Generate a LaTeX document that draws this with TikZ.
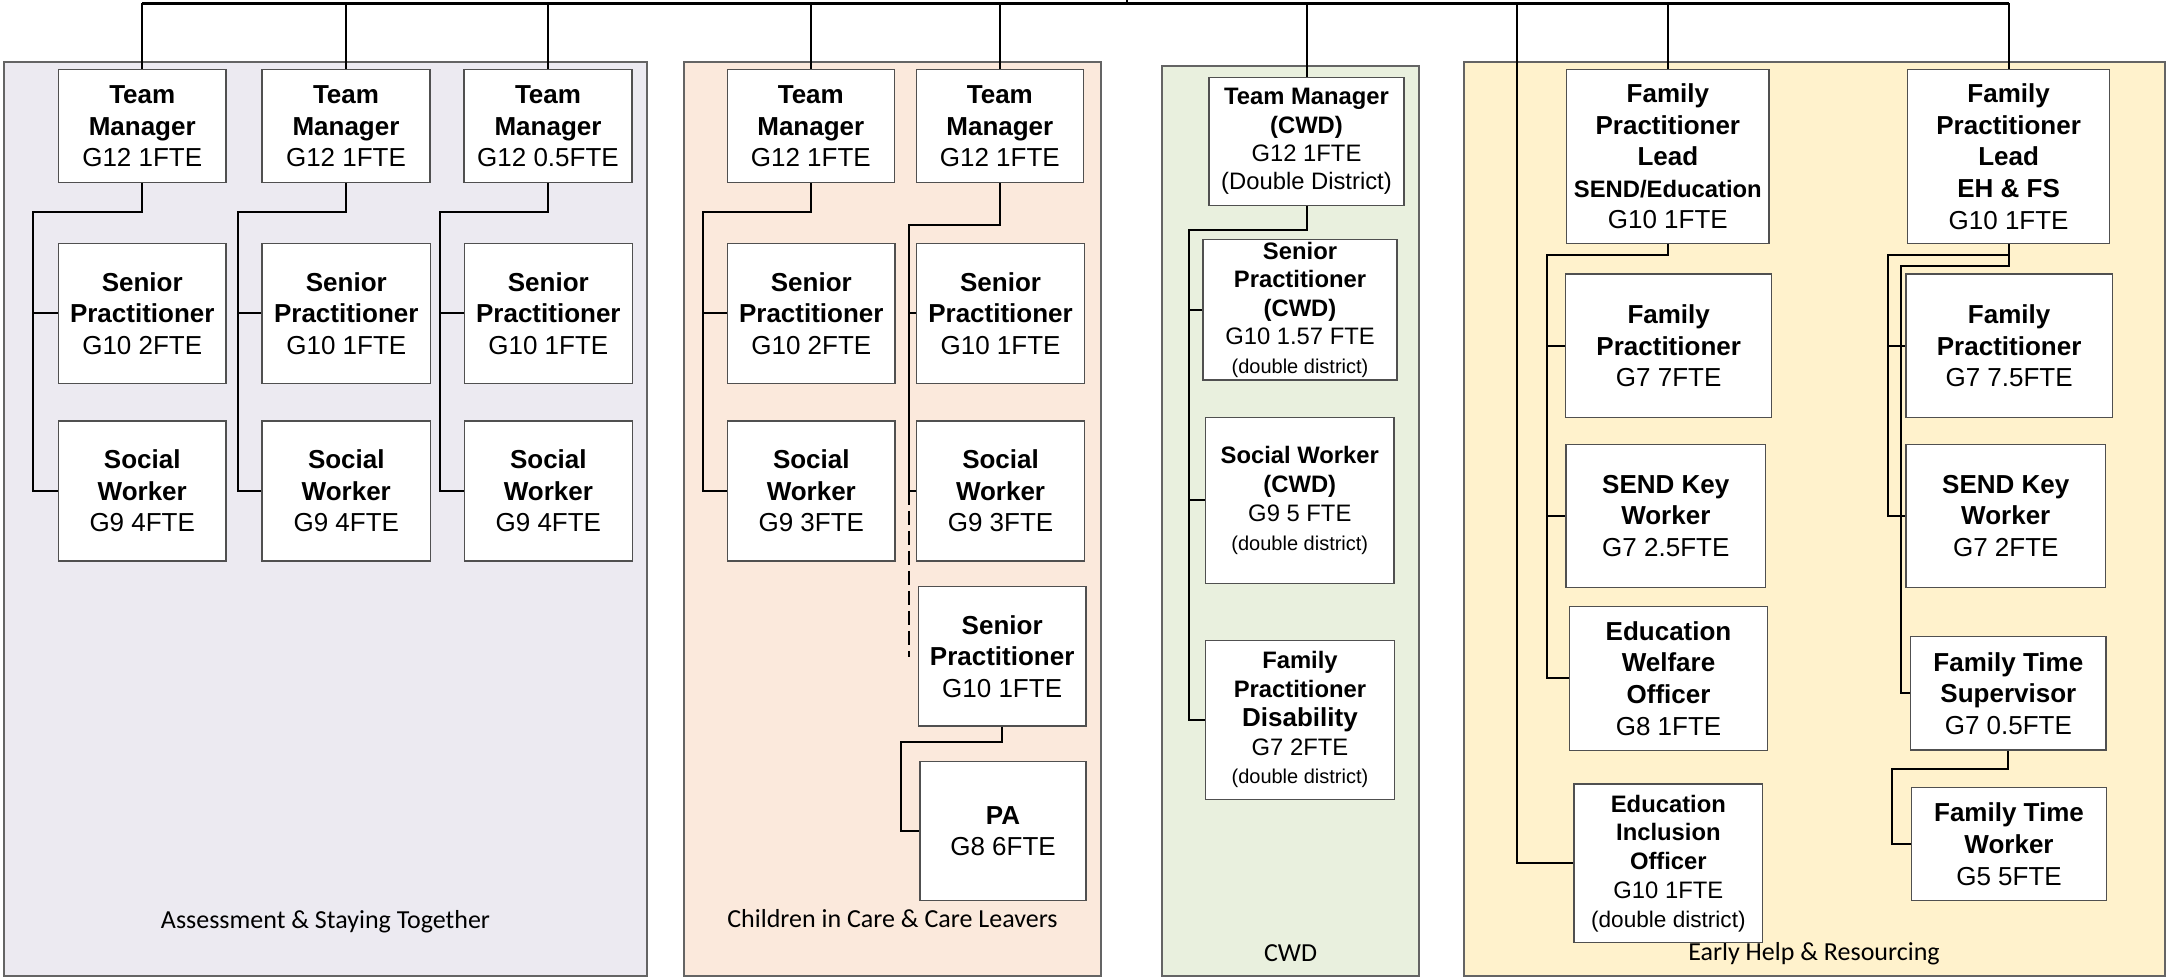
\documentclass[tikz,border=0pt]{standalone}
\usepackage{fontspec}
\setmainfont{Liberation Sans}
\newfontfamily\calfont{Carlito}
\usetikzlibrary{calc}
\definecolor{pA}{RGB}{236,234,241}
\definecolor{pB}{RGB}{251,233,220}
\definecolor{pC}{RGB}{233,240,222}
\definecolor{pD}{RGB}{255,242,204}
\definecolor{boxc}{RGB}{80,80,80}
\definecolor{panelc}{RGB}{100,100,100}
\newcommand{\dd}[1]{{\fontsize{10}{12}\selectfont #1}}
\newcommand{\obox}[7]{%
  \pgfmathsetmacro{\oboxw}{(#5-#3)*0.5}%
  \pgfmathsetmacro{\oboxh}{(#6-#4)*0.5}%
  \node[#1, minimum width=\oboxw pt, minimum height=\oboxh pt] (#2) at ({(#3+#5)/2},{(#4+#6)/2}) {#7};}
\tikzset{
  box/.style={draw=boxc, fill=white, line width=0.6pt, inner sep=0pt, align=center, font=\fontsize{13}{15.8}\selectfont},
  sbox/.style={box, font=\fontsize{11.9}{14.2}\selectfont},
  panel/.style={draw=panelc, line width=0.6pt},
  conn/.style={line width=1pt, black},
  busline/.style={line width=1.2pt, black},
  dashconn/.style={line width=1pt, black, dash pattern=on 7pt off 3pt},
  plabel/.style={font=\calfont\fontsize{13}{15.6}\selectfont, anchor=base, inner sep=0pt},
}
\begin{document}
\begin{tikzpicture}[x=0.5pt, y=-0.5pt]
\useasboundingbox (0,0) rectangle (2168,977);
% panels
\draw[panel, fill=pA] (4,62) rectangle (647,976);
\draw[panel, fill=pB] (684,62) rectangle (1101,976);
\draw[panel, fill=pC] (1162,66) rectangle (1419,976);
\draw[panel, fill=pD] (1464,62) rectangle (2165,976);
\node[plabel] (lA) at (325.5,928) {Assessment \& Staying Together};
\node[plabel] (lB) at (892.5,927) {Children in Care \& Care Leavers};
\node[plabel] (lC) at (1290.5,961) {CWD};
\node[plabel] (lD) at (1814,960) {Early Help \& Resourcing};
% Panel 1
\obox{box}{a1}{58.5}{69.6}{226}{182.8}{\textbf{Team}\\\textbf{Manager}\\G12 1FTE}
\obox{box}{a2}{58.5}{243.4}{226}{383.3}{\textbf{Senior}\\\textbf{Practitioner}\\G10 2FTE}
\obox{box}{a3}{58.5}{421}{226}{561}{\textbf{Social}\\\textbf{Worker}\\G9 4FTE}
\obox{box}{b1}{262}{69.6}{430}{182.8}{\textbf{Team}\\\textbf{Manager}\\G12 1FTE}
\obox{box}{b2}{262}{243.4}{430.6}{383.3}{\textbf{Senior}\\\textbf{Practitioner}\\G10 1FTE}
\obox{box}{b3}{262}{421}{430.6}{561}{\textbf{Social}\\\textbf{Worker}\\G9 4FTE}
\obox{box}{c1}{464}{69.6}{632}{182.8}{\textbf{Team}\\\textbf{Manager}\\G12 0.5FTE}
\obox{box}{c2}{464.4}{243.4}{632.3}{383.3}{\textbf{Senior}\\\textbf{Practitioner}\\G10 1FTE}
\obox{box}{c3}{464.4}{421}{632.3}{561}{\textbf{Social}\\\textbf{Worker}\\G9 4FTE}
% Panel 2
\obox{box}{d1}{727.2}{69.6}{894.4}{182.8}{\textbf{Team}\\\textbf{Manager}\\G12 1FTE}
\obox{box}{d2}{727.7}{243.4}{894.9}{383.3}{\textbf{Senior}\\\textbf{Practitioner}\\G10 2FTE}
\obox{box}{d3}{727.7}{421}{894.9}{561}{\textbf{Social}\\\textbf{Worker}\\G9 3FTE}
\obox{box}{e1}{916.2}{69.6}{1083.5}{182.8}{\textbf{Team}\\\textbf{Manager}\\G12 1FTE}
\obox{box}{e2}{916.7}{243.4}{1084.4}{383.3}{\textbf{Senior}\\\textbf{Practitioner}\\G10 1FTE}
\obox{box}{e3}{916.7}{421}{1084.4}{561}{\textbf{Social}\\\textbf{Worker}\\G9 3FTE}
\obox{box}{e4}{918.3}{586.7}{1086}{726}{\textbf{Senior}\\\textbf{Practitioner}\\G10 1FTE}
\obox{box}{e5}{920}{761.3}{1086}{900.7}{\textbf{PA}\\G8 6FTE}
% Panel 3
\obox{sbox}{f1}{1209}{77.3}{1404}{205.7}{\textbf{Team Manager}\\\textbf{(CWD)}\\G12 1FTE\\(Double District)}
\obox{sbox}{f2}{1203}{239.7}{1397}{380}{\textbf{Senior}\\\textbf{Practitioner}\\\textbf{(CWD)}\\G10 1.57 FTE\\\dd{(double district)}}
\obox{sbox, font=\fontsize{11.9}{14.6}\selectfont}{f3}{1205.6}{417.6}{1394}{583.3}{\textbf{Social Worker}\\\textbf{(CWD)}\\G9 5 FTE\\\dd{(double district)}}
\obox{sbox, font=\fontsize{11.9}{14.4}\selectfont}{f4}{1205.6}{640.3}{1394.3}{799.3}{\textbf{Family}\\\textbf{Practitioner}\\{\fontsize{13}{14.4}\selectfont\textbf{Disability}}\\G7 2FTE\\\dd{(double district)}}
% Panel 4
\obox{box}{g1}{1566.7}{69.7}{1769}{243.3}{\textbf{Family}\\\textbf{Practitioner}\\\textbf{Lead}\\{\fontsize{11.9}{14}\selectfont\textbf{SEND/Education}}\\G10 1FTE}
\obox{box}{g2}{1565.7}{274}{1771.7}{417.8}{\textbf{Family}\\\textbf{Practitioner}\\G7 7FTE}
\obox{box}{g3}{1566}{444.4}{1765.6}{587.5}{\textbf{SEND Key}\\\textbf{Worker}\\G7 2.5FTE}
\obox{box}{g4}{1569.4}{606.7}{1767.6}{750.3}{\textbf{Education}\\\textbf{Welfare}\\\textbf{Officer}\\G8 1FTE}
\obox{sbox, font=\fontsize{11.9}{14.4}\selectfont}{g5}{1574}{784}{1762.7}{942.7}{\textbf{Education}\\\textbf{Inclusion}\\\textbf{Officer}\\G10 1FTE\\{\fontsize{11.3}{14}\selectfont (double district)}}
\obox{box}{h1}{1907.4}{69.6}{2109.8}{243.7}{\textbf{Family}\\\textbf{Practitioner}\\\textbf{Lead}\\\textbf{EH \& FS}\\G10 1FTE}
\obox{box}{h2}{1905.9}{274}{2112.3}{417.8}{\textbf{Family}\\\textbf{Practitioner}\\G7 7.5FTE}
\obox{box}{h3}{1905.9}{444.4}{2105.6}{587.4}{\textbf{SEND Key}\\\textbf{Worker}\\G7 2FTE}
\obox{box}{h4}{1910.7}{636.7}{2106}{750}{\textbf{Family Time}\\\textbf{Supervisor}\\G7 0.5FTE}
\obox{box}{h5}{1911.3}{787.7}{2106.7}{900.7}{\textbf{Family Time}\\\textbf{Worker}\\G5 5FTE}
% bus
\coordinate (bus) at (0,3.5);
\coordinate (up) at (1127,-4);
\coordinate (eiox) at (1516.7,3.5);
\draw[busline] (a1.north |- bus) -- (h1.north |- bus);
\draw[busline] (up) -- (up |- bus);
\foreach \n in {a1,b1,c1,d1,e1,f1,g1,h1} \draw[conn] (\n.north |- bus) -- (\n.north);
\draw[conn] (eiox) |- (g5.west);
% panel 1 connectors
\coordinate (sa) at (33.4,211.6);
\coordinate (sb) at (237.6,211.6);
\coordinate (sc) at (440,211.6);
\draw[conn] (a1.south) |- (sa) -- (sa |- a3.west) -- (a3.west);
\draw[conn] (sa |- a2.west) -- (a2.west);
\draw[conn] (b1.south) |- (sb) -- (sb |- b3.west) -- (b3.west);
\draw[conn] (sb |- b2.west) -- (b2.west);
\draw[conn] (c1.south) |- (sc) -- (sc |- c3.west) -- (c3.west);
\draw[conn] (sc |- c2.west) -- (c2.west);
% panel 2 connectors
\coordinate (sd) at (703,211.6);
\coordinate (se) at (908.5,224.6);
\coordinate (sedash) at (908.5,657);
\coordinate (sf) at (900.7,741.7);
\draw[conn] (d1.south) |- (sd) -- (sd |- d3.west) -- (d3.west);
\draw[conn] (sd |- d2.west) -- (d2.west);
\draw[conn] (e1.south) |- (se) -- (se |- e3.west) -- (e3.west);
\draw[conn] (se |- e2.west) -- (e2.west);
\draw[dashconn] (se |- e3.west) -- (sedash);
\draw[conn] (e4.south) |- (sf) -- (sf |- e5.west) -- (e5.west);
% panel 3 connectors
\coordinate (sg) at (1188.7,230);
\draw[conn] (f1.south) |- (sg) -- (sg |- f4.west) -- (f4.west);
\draw[conn] (sg |- f2.west) -- (f2.west);
\draw[conn] (sg |- f3.west) -- (f3.west);
% panel 4 connectors
\coordinate (sh) at (1546.7,255);
\draw[conn] (g1.south) |- (sh) -- (sh |- g4.west) -- (g4.west);
\draw[conn] (sh |- g2.west) -- (g2.west);
\draw[conn] (sh |- g3.west) -- (g3.west);
\coordinate (si) at (1887.7,254.8);
\coordinate (sj) at (1901,266);
\coordinate (sk) at (1892.3,769);
\draw[conn] (h1.south) |- (si) -- (si |- h3.west) -- (h3.west);
\draw[conn] (si |- h2.west) -- (h2.west);
\draw[conn] (h1.south) |- (sj) -- (sj |- h4.west) -- (h4.west);
\draw[conn] (h4.south) |- (sk) -- (sk |- h5.west) -- (h5.west);
\end{tikzpicture}
\end{document}
